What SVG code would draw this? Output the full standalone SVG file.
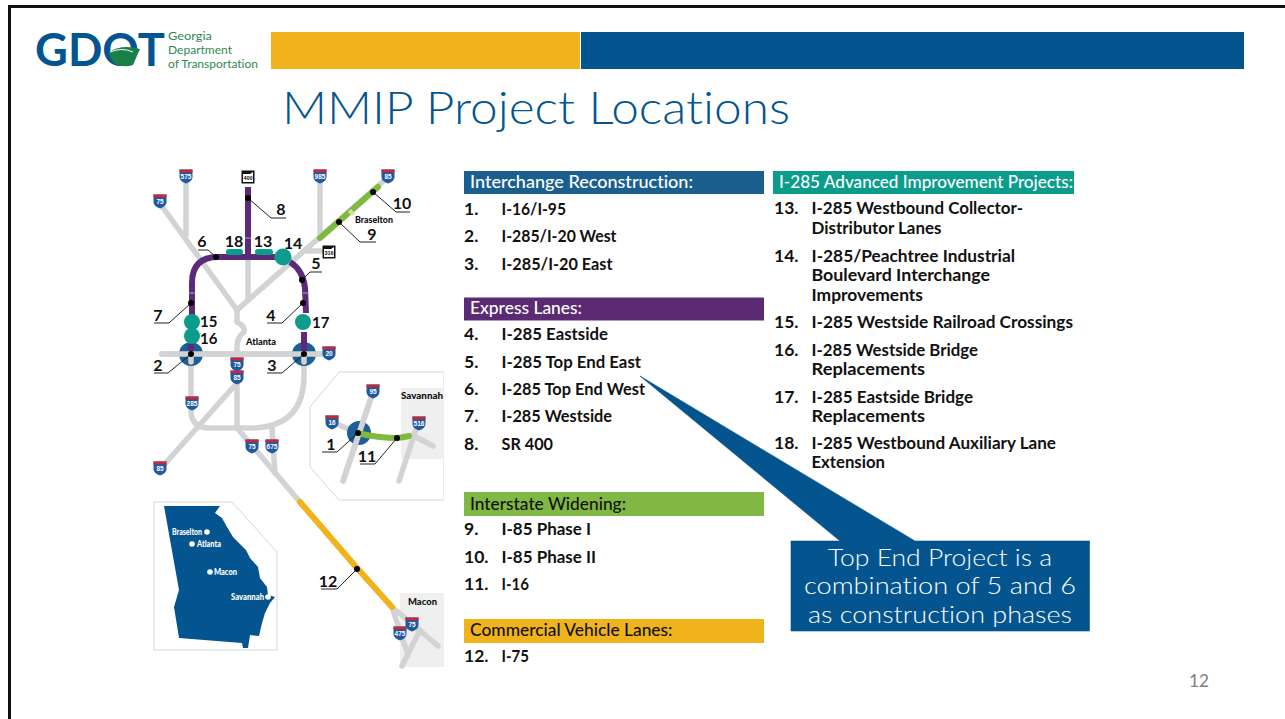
<svg xmlns="http://www.w3.org/2000/svg" xmlns:xlink="http://www.w3.org/1999/xlink" width="1285" height="719" viewBox="0 0 1285 719">
<style>
text{font-family:"Lato","Open Sans","Liberation Sans",sans-serif;font-variant-ligatures:none}
.li{font-size:17.5px;font-weight:700;fill:#111}
.hd{font-size:17.5px;font-weight:500}
.n{font-size:16px;font-weight:700;fill:#111;text-anchor:middle}
.n2{font-size:15px;font-weight:700;fill:#111}
.pl{font-size:10px;font-weight:900;fill:#111}
.gl{font-size:9.5px;font-weight:900;fill:#fff}
.sh{font-size:6.5px;font-weight:700;fill:#fff;text-anchor:middle;font-family:"Liberation Sans",sans-serif}
.cl{font-size:24px;fill:#fff;font-weight:300}
.road{fill:none;stroke:#d2d3d5;stroke-width:5.5;stroke-linecap:round;stroke-linejoin:round}
.pu{fill:none;stroke:#5b2a78;stroke-width:6;stroke-linecap:butt}
.gr{fill:none;stroke:#80b93f;stroke-width:6;stroke-linecap:round}
.ye{fill:none;stroke:#f0b31c;stroke-width:6;stroke-linecap:round}
.ld{fill:none;stroke:#222;stroke-width:1}
.dot{fill:#000}
.tl{fill:#0b9c8b}
.ib{fill:#1b5f94}
.ins{fill:#fff;stroke:#d5d7d8;stroke-width:1}
</style>
<defs>
<g id="shield"><path d="M-6.5-6.5H6.5V1Q6.5 5 0 7.5Q-6.5 5-6.5 1Z" fill="#1f5aa0"/><path d="M-6.5-6.5H6.5V-3.6H-6.5Z" fill="#c2293a"/></g>
<g id="sr"><rect x="-6.5" y="-6.5" width="13" height="13" fill="#111"/><path d="M-5-3H2L5-5V5H-5Z" fill="#fff"/></g>
</defs>
<rect width="1285" height="719" fill="#fff"/>
<path d="M9.5 719V6.5H1285" fill="none" stroke="#111" stroke-width="3"/>

<g id="logo">
<text x="35" y="66" font-size="46" font-weight="700" fill="#04558f" textLength="130" lengthAdjust="spacingAndGlyphs">GDOT</text>
<path d="M109 52Q122 44 140 49Q136 58 133 65Q124 68 115 64Q110 59 109 52Z" fill="#1b7f48"/>
<path d="M110 52Q122 47 133 52" fill="none" stroke="#fff" stroke-width="1"/>
<g fill="#2f8a52" font-size="11.5">
<text x="168" y="40" textLength="44" lengthAdjust="spacingAndGlyphs">Georgia</text>
<text x="168" y="54" textLength="64" lengthAdjust="spacingAndGlyphs">Department</text>
<text x="168" y="68" textLength="90" lengthAdjust="spacingAndGlyphs">of Transportation</text>
</g>
</g>
<g id="header-bars">
<rect x="271" y="32" width="309" height="37" fill="#f0b31c"/>
<rect x="581" y="32" width="663" height="37" fill="#04558f"/>
</g>
<text id="title" x="282" y="124" font-size="46" font-weight="300" fill="#04558f" textLength="508" lengthAdjust="spacingAndGlyphs">MMIP Project Locations</text>

<g id="map">
<polygon class="ins" points="444,372 339,372 310,407 310,467 339,500 444,500"/>
<rect x="444" y="371" width="3" height="130" fill="#fff"/>
<rect x="401" y="388" width="43" height="71" fill="#efefef"/>
<rect x="400" y="593" width="44" height="74" fill="#efefef"/>
<polygon class="ins" points="154,502 232,502 277,552 277,650 154,650"/>
<path d="M164 506H220L215 513L222 518L227 527L233 537L246 550L250 558L258 567L260 578L267 587L268 595L275 597L270 603L265 613L262 623L259 636L250 635L248 648L243 648L242 643L179 638L174 607L179 590Z" fill="#04558f"/>

<g id="roads">
<path class="road" d="M161 205L237 310"/>
<path class="road" d="M186 180V235"/>
<path class="road" d="M237 310L388 177"/>
<path class="road" d="M320 180V236"/>
<path class="road" d="M307 251H325"/>
<path class="road" d="M248 257V300"/>
<path class="road" d="M237 310V322Q246 327 244 332Q237 338 237 345V352"/>
<path class="road" d="M162 354H325"/>
<path class="road" d="M191 354V412Q192 428 210 428H250Q304 428 304 375V354"/>
<path class="road" d="M237 383L162 467"/>
<path class="road" d="M237 383V428"/>
<path class="road" d="M237 428L300 502"/>
<path class="road" d="M272 428L275 473"/>
<path class="road" d="M373 392L343 481"/>
<path class="road" d="M332 422L358 433"/>
<path class="road" d="M418 423L399 481"/>
<path class="road" d="M412 435L433 446"/>
<path class="road" d="M392 607L438 646"/>
<path class="road" d="M393 610L408 655"/>
<path class="road" d="M420 630L402 666"/>
</g>
<circle class="ib" cx="191" cy="354" r="12"/>
<circle class="ib" cx="304" cy="354" r="12"/>
<circle class="ib" cx="359" cy="433" r="12"/>
<path class="road" d="M162 354H325"/>
<path class="road" d="M191 354V362"/>
<path class="road" d="M304 354V362"/>
<path class="road" d="M373 392L343 481"/>

<g id="projects">
<path class="pu" d="M192 315V283Q192 257 218 257H275"/>
<path class="pu" d="M290 262Q303 270 305 288L306 313"/>
<path class="pu" d="M304 332V351"/>
<path class="pu" d="M191 344V351"/>
<path class="pu" d="M248 187V257"/>
<path d="M245 238H251M189 293H195M303 293H309" stroke="#b7a6c6" stroke-width="1" fill="none"/>
<path class="gr" d="M320 238L378 187"/>
<path d="M350 214L353 211" stroke="#cfe0b0" stroke-width="6" fill="none"/>
<path class="gr" d="M362 434Q380 438 397 438Q405 437 409 436"/>
<path class="ye" d="M300 502L357 568L383 597L392 607"/>
<rect class="tl" x="226" y="249" width="17" height="6" rx="3"/>
<rect class="tl" x="255" y="249" width="18" height="6" rx="3"/>
<circle class="tl" cx="283" cy="257" r="8.5"/>
<circle class="tl" cx="192" cy="322" r="8"/>
<circle class="tl" cx="192" cy="336" r="8"/>
<circle class="tl" cx="303" cy="322" r="8"/>
</g>

<g id="leaders">
<path class="ld" d="M248 198L271 218H286"/>
<path class="ld" d="M373 192L396 212H410"/>
<path class="ld" d="M339 222L360 242H376"/>
<path class="ld" d="M216 257L208 250H198"/>
<path class="ld" d="M302 280L310 272H322"/>
<path class="ld" d="M303 303L282 323H267"/>
<path class="ld" d="M191 303L169 323H154"/>
<path class="ld" d="M191 354L168 373H154"/>
<path class="ld" d="M304 354L282 373H267"/>
<path class="ld" d="M357 569L337 589H321"/>
<path class="ld" d="M358 433L337 452H322"/>
<path class="ld" d="M397 438L375 464H360"/>
<g class="dot">
<circle cx="248" cy="198" r="3"/><circle cx="373" cy="192" r="3"/><circle cx="339" cy="222" r="3"/><circle cx="216" cy="257" r="3"/><circle cx="302" cy="280" r="3"/><circle cx="303" cy="303" r="3"/><circle cx="191" cy="303" r="3"/><circle cx="191" cy="354" r="3"/><circle cx="304" cy="354" r="3"/><circle cx="357" cy="569" r="3"/><circle cx="358" cy="433" r="3"/><circle cx="397" cy="438" r="3"/>
</g>
</g>

<g id="shields">
<use xlink:href="#shield" href="#shield" x="186" y="176"/><text class="sh" x="186" y="179">575</text>
<use xlink:href="#shield" href="#shield" x="160" y="201"/><text class="sh" x="160" y="204">75</text>
<use xlink:href="#sr" href="#sr" x="248" y="177"/><text class="sh" x="248" y="180" style="fill:#111;font-size:5.5px">400</text>
<use xlink:href="#shield" href="#shield" x="320" y="176"/><text class="sh" x="320" y="179">985</text>
<use xlink:href="#shield" href="#shield" x="388" y="176"/><text class="sh" x="388" y="179">85</text>
<use xlink:href="#sr" href="#sr" x="329" y="252"/><text class="sh" x="329" y="255" style="fill:#111;font-size:5.5px">316</text>
<use xlink:href="#shield" href="#shield" x="329" y="353"/><text class="sh" x="329" y="356">20</text>
<use xlink:href="#shield" href="#shield" x="237" y="364"/><text class="sh" x="237" y="367">75</text>
<use xlink:href="#shield" href="#shield" x="237" y="377"/><text class="sh" x="237" y="380">85</text>
<use xlink:href="#shield" href="#shield" x="192" y="403"/><text class="sh" x="192" y="406">285</text>
<use xlink:href="#shield" href="#shield" x="252" y="446"/><text class="sh" x="252" y="449">75</text>
<use xlink:href="#shield" href="#shield" x="272" y="446"/><text class="sh" x="272" y="449">675</text>
<use xlink:href="#shield" href="#shield" x="160" y="468"/><text class="sh" x="160" y="471">85</text>
<use xlink:href="#shield" href="#shield" x="373" y="391"/><text class="sh" x="373" y="394">95</text>
<use xlink:href="#shield" href="#shield" x="332" y="422"/><text class="sh" x="332" y="425">16</text>
<use xlink:href="#shield" href="#shield" x="419" y="423"/><text class="sh" x="419" y="426">516</text>
<use xlink:href="#shield" href="#shield" x="412" y="624"/><text class="sh" x="412" y="627">75</text>
<use xlink:href="#shield" href="#shield" x="400" y="633"/><text class="sh" x="400" y="636">475</text>
</g>

<g id="map-labels">
<text class="pl" x="355" y="223" textLength="38" lengthAdjust="spacingAndGlyphs">Braselton</text>
<text class="pl" x="246" y="345" textLength="30" lengthAdjust="spacingAndGlyphs">Atlanta</text>
<text class="pl" x="401" y="399" textLength="42" lengthAdjust="spacingAndGlyphs">Savannah</text>
<text class="pl" x="408" y="605" textLength="29" lengthAdjust="spacingAndGlyphs">Macon</text>
<text class="n" x="281" y="215">8</text>
<text class="n" x="402" y="209">10</text>
<text class="n" x="372" y="240">9</text>
<text class="n" x="234" y="247">18</text>
<text class="n" x="263" y="247">13</text>
<text class="n" x="293" y="249">14</text>
<text class="n" x="202" y="247">6</text>
<text class="n" x="316" y="269">5</text>
<text class="n" x="271" y="321">4</text>
<text class="n" x="158" y="321">7</text>
<text class="n2" x="200" y="327">15</text>
<text class="n2" x="200" y="344">16</text>
<text class="n2" x="312" y="328">17</text>
<text class="n" x="158" y="371">2</text>
<text class="n" x="272" y="371">3</text>
<text class="n" x="328" y="587">12</text>
<text class="n" x="331" y="450">1</text>
<text class="n" x="367" y="462">11</text>
<g fill="#fff"><circle cx="207" cy="532" r="2.8"/><circle cx="192" cy="544" r="2.8"/><circle cx="210" cy="572" r="2.8"/><circle cx="268" cy="597" r="2.8"/></g>
<text class="gl" x="172" y="535" textLength="30" lengthAdjust="spacingAndGlyphs">Braselton</text>
<text class="gl" x="197" y="547" textLength="24" lengthAdjust="spacingAndGlyphs">Atlanta</text>
<text class="gl" x="214" y="575" textLength="23" lengthAdjust="spacingAndGlyphs">Macon</text>
<text class="gl" x="231" y="600" textLength="33" lengthAdjust="spacingAndGlyphs">Savannah</text>
</g>
</g>

<g id="legend-interchange">
<rect x="464" y="171" width="300" height="23" fill="#1b5f8f"/>
<text class="hd" x="470" y="188" fill="#fff" textLength="223" lengthAdjust="spacingAndGlyphs">Interchange Reconstruction:</text>
<text class="li" x="464" y="215">1.</text><text class="li" x="501.5" y="215" textLength="64.5" lengthAdjust="spacingAndGlyphs">I-16/I-95</text>
<text class="li" x="464" y="242">2.</text><text class="li" x="501.5" y="242" textLength="115" lengthAdjust="spacingAndGlyphs">I-285/I-20 West</text>
<text class="li" x="464" y="270">3.</text><text class="li" x="501.5" y="270" textLength="111" lengthAdjust="spacingAndGlyphs">I-285/I-20 East</text>
</g>
<g id="legend-express">
<rect x="464" y="297.5" width="300" height="23" fill="#5b2a72"/>
<text class="hd" x="470" y="314" fill="#fff" textLength="112" lengthAdjust="spacingAndGlyphs">Express Lanes:</text>
<text class="li" x="464" y="340">4.</text><text class="li" x="501.5" y="340" textLength="106.5" lengthAdjust="spacingAndGlyphs">I-285 Eastside</text>
<text class="li" x="464" y="367.5">5.</text><text class="li" x="501.5" y="367.5" textLength="139.5" lengthAdjust="spacingAndGlyphs">I-285 Top End East</text>
<text class="li" x="464" y="395">6.</text><text class="li" x="501.5" y="395" textLength="143.5" lengthAdjust="spacingAndGlyphs">I-285 Top End West</text>
<text class="li" x="464" y="422">7.</text><text class="li" x="501.5" y="422" textLength="110.5" lengthAdjust="spacingAndGlyphs">I-285 Westside</text>
<text class="li" x="464" y="450">8.</text><text class="li" x="501.5" y="450" textLength="51.5" lengthAdjust="spacingAndGlyphs">SR 400</text>
</g>
<g id="legend-widening">
<rect x="464" y="492" width="300" height="24" fill="#80b843"/>
<text class="hd" x="470" y="510" fill="#111" textLength="156" lengthAdjust="spacingAndGlyphs">Interstate Widening:</text>
<text class="li" x="464" y="535">9.</text><text class="li" x="501.5" y="535" textLength="89.5" lengthAdjust="spacingAndGlyphs">I-85 Phase I</text>
<text class="li" x="464" y="563">10.</text><text class="li" x="501.5" y="563" textLength="94.5" lengthAdjust="spacingAndGlyphs">I-85 Phase II</text>
<text class="li" x="464" y="590">11.</text><text class="li" x="501.5" y="590" textLength="27.5" lengthAdjust="spacingAndGlyphs">I-16</text>
</g>
<g id="legend-commercial">
<rect x="464" y="619" width="300" height="24" fill="#f0b31c"/>
<text class="hd" x="470" y="636" fill="#111" textLength="202.5" lengthAdjust="spacingAndGlyphs">Commercial Vehicle Lanes:</text>
<text class="li" x="464" y="662">12.</text><text class="li" x="501.5" y="662" textLength="27.5" lengthAdjust="spacingAndGlyphs">I-75</text>
</g>
<g id="legend-advanced">
<rect x="773" y="171" width="301" height="23" fill="#0b9c8b"/>
<text class="hd" x="779" y="188" fill="#fff" textLength="294" lengthAdjust="spacingAndGlyphs">I-285 Advanced Improvement Projects:</text>
<text class="li" x="774" y="214">13.</text><text class="li" x="811.5" y="214" textLength="211.5" lengthAdjust="spacingAndGlyphs">I-285 Westbound Collector-</text>
<text class="li" x="811.5" y="234" textLength="130" lengthAdjust="spacingAndGlyphs">Distributor Lanes</text>
<text class="li" x="774" y="262">14.</text><text class="li" x="811.5" y="262" textLength="203.5" lengthAdjust="spacingAndGlyphs">I-285/Peachtree Industrial</text>
<text class="li" x="811.5" y="281" textLength="178.5" lengthAdjust="spacingAndGlyphs">Boulevard Interchange</text>
<text class="li" x="811.5" y="301" textLength="111.5" lengthAdjust="spacingAndGlyphs">Improvements</text>
<text class="li" x="774" y="328">15.</text><text class="li" x="811.5" y="328" textLength="261.5" lengthAdjust="spacingAndGlyphs">I-285 Westside Railroad Crossings</text>
<text class="li" x="774" y="356">16.</text><text class="li" x="811.5" y="356" textLength="166.5" lengthAdjust="spacingAndGlyphs">I-285 Westside Bridge</text>
<text class="li" x="811.5" y="375" textLength="113.5" lengthAdjust="spacingAndGlyphs">Replacements</text>
<text class="li" x="774" y="403">17.</text><text class="li" x="811.5" y="403" textLength="161.5" lengthAdjust="spacingAndGlyphs">I-285 Eastside Bridge</text>
<text class="li" x="811.5" y="422" textLength="113.5" lengthAdjust="spacingAndGlyphs">Replacements</text>
<text class="li" x="774" y="449">18.</text><text class="li" x="811.5" y="449" textLength="244.5" lengthAdjust="spacingAndGlyphs">I-285 Westbound Auxiliary Lane</text>
<text class="li" x="811.5" y="468" textLength="73.5" lengthAdjust="spacingAndGlyphs">Extension</text>
</g>

<g id="callout">
<path d="M640 376L840 541H791V631H1089.5V541H915Z" fill="#04558f" stroke="#0d4f85" stroke-width=".6"/>
<text class="cl" x="828" y="566" textLength="224" lengthAdjust="spacingAndGlyphs">Top End Project is a</text>
<text class="cl" x="804" y="594" textLength="272" lengthAdjust="spacingAndGlyphs">combination of 5 and 6</text>
<text class="cl" x="808" y="623" textLength="264" lengthAdjust="spacingAndGlyphs">as construction phases</text>
</g>
<text id="page-number" x="1189" y="687" font-size="18" fill="#808080" textLength="20" lengthAdjust="spacingAndGlyphs">12</text>
</svg>
